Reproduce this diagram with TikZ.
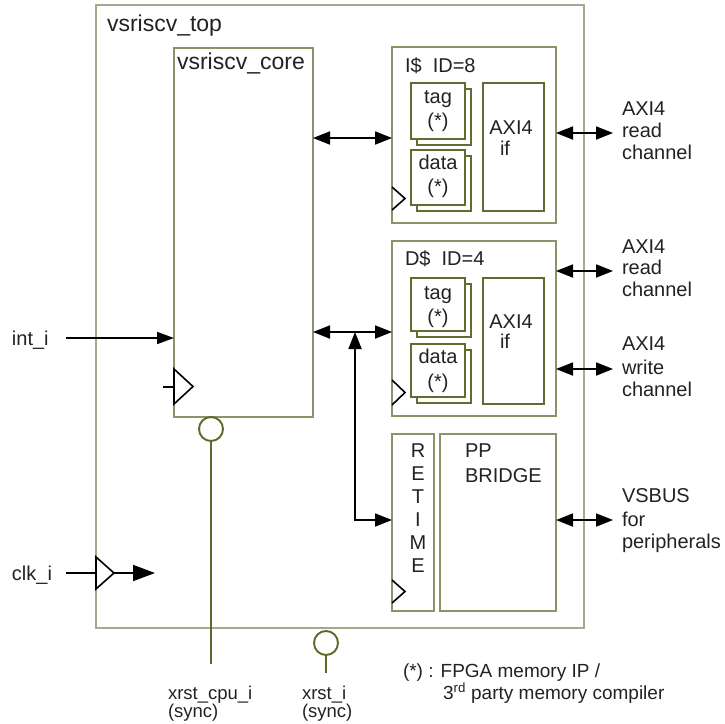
\documentclass[tikz,border=0pt]{standalone}
\usepackage{fontspec}
\setmainfont{Liberation Sans}
\usetikzlibrary{arrows.meta}
\definecolor{outerC}{HTML}{A3AA8C}
\definecolor{boxC}{HTML}{8A9468}
\definecolor{innC}{HTML}{5E6E30}
\definecolor{rstC}{HTML}{5A6A28}
\definecolor{txtC}{HTML}{222222}
\begin{document}
\begin{tikzpicture}[x=1pt,y=-1pt,
  lbl/.style={font=\fontsize{20}{23}\selectfont, text=txtC, inner sep=0, outer sep=0, anchor=base west},
  lblc/.style={font=\fontsize{20}{23}\selectfont, text=txtC, inner sep=0, outer sep=0, anchor=base},
  ttl/.style={font=\fontsize{23}{27}\selectfont, text=txtC, inner sep=0, outer sep=0, anchor=base west},
  sml/.style={font=\fontsize{18.5}{21}\selectfont, text=txtC, inner sep=0, outer sep=0, anchor=base west},
  blk/.style={draw=boxC, line width=1.6pt, fill=white, inner sep=0, outer sep=0, anchor=north west},
  mem/.style={draw=innC, line width=1.6pt, fill=white, inner sep=0, outer sep=0, anchor=north west, minimum width=54pt},
  bus/.style={line width=1.8pt, {Triangle[length=17pt,width=13pt]}-{Triangle[length=17pt,width=13pt]}},
  sig/.style={line width=1.8pt, -{Triangle[length=17pt,width=12pt]}},
  clk/.style={line width=1.6pt, line join=miter},
  rst/.style={draw=rstC, line width=1.9pt},
]
\useasboundingbox (0,0) rectangle (725,723);

% outer block
\node[blk, draw=outerC, minimum width=488pt, minimum height=623pt] (top) at (96,5) {};
\node[ttl] (toplbl) at (107,31) {vsriscv\_top};

% core
\node[blk, minimum width=139pt, minimum height=369pt] (core) at (174,48) {};
\node[ttl] (corelbl) at (177,69) {vsriscv\_core};
\draw[clk] (163,387) -- (174,387);
\draw[clk] (174,369) -- (193,386.5) -- (174,404) -- cycle;

% I$
\node[blk, minimum width=164pt, minimum height=176pt] (icache) at (392,47) {};
\node[lbl] (icachelbl) at (405,72) {I\$~~ID=8};
\node[mem, minimum height=56pt] (itagsh) at (417,89) {};
\node[mem, minimum height=56pt] (itag) at (411,83) {};
\node[mem, minimum height=55pt] (idatash) at (417,156) {};
\node[mem, minimum height=55pt] (idata) at (411,150) {};
\node[mem, minimum width=61pt, minimum height=128pt] (iaxi) at (483,83) {};
\node[lblc] (itag1) at (438,103) {tag};
\node[lblc] (itag2) at (438,127) {(*)};
\node[lblc] (idata1) at (438,169) {data};
\node[lblc] (idata2) at (438,193) {(*)};
\node[lblc] (iaxi1) at (511,134) {AXI4};
\node[lblc] (iaxi2) at (505,155) {if};
\draw[clk] (392,187) -- (405,198.5) -- (392,210);

% D$
\node[blk, minimum width=164pt, minimum height=175pt] (dcache) at (392,241) {};
\node[lbl] (dcachelbl) at (405,265) {D\$~~ID=4};
\node[mem, minimum height=53pt] (dtagsh) at (417,284) {};
\node[mem, minimum height=53pt] (dtag) at (411,278) {};
\node[mem, minimum height=53pt] (ddatash) at (417,350) {};
\node[mem, minimum height=53pt] (ddata) at (411,344) {};
\node[mem, minimum width=61pt, minimum height=126pt] (daxi) at (483,278) {};
\node[lblc] (dtag1) at (438,299) {tag};
\node[lblc] (dtag2) at (438,323) {(*)};
\node[lblc] (ddata1) at (438,363) {data};
\node[lblc] (ddata2) at (438,388) {(*)};
\node[lblc] (daxi1) at (511,328) {AXI4};
\node[lblc] (daxi2) at (505,348) {if};
\draw[clk] (392,380) -- (405,392.5) -- (392,405);

% retime + bridge
\node[blk, minimum width=42pt, minimum height=177pt] (retime) at (392,434) {};
\foreach \L [count=\i] in {R,E,T,I,M,E}
  \node[lblc] (rt\i) at (418,434+23*\i) {\L};
\draw[clk] (392,580) -- (405,591.5) -- (392,603);
\node[blk, minimum width=116pt, minimum height=177pt] (bridge) at (440,434) {};
\node[lbl] (pp1) at (465,457) {PP};
\node[lbl] (pp2) at (465,482) {BRIDGE};

% core <-> caches
\coordinate (icin) at ([yshift=-3pt]icache.west);
\draw[bus] (core.east |- icin) -- (icin);
\coordinate (dcin) at ([yshift=-3.5pt]dcache.west);
\draw[bus] (core.east |- dcin) -- (dcin);
\coordinate (tj) at (355,332);
\coordinate (rtin) at ([yshift=2.5pt]retime.west);
\draw[bus] (tj) |- (rtin);

% external buses
\coordinate (ir) at (613,133);
\draw[bus] (ir -| icache.east) -- (ir);
\node[lbl] (ir1) at (622,115) {AXI4};
\node[lbl] (ir2) at (622,137) {read};
\node[lbl] (ir3) at (622,159) {channel};

\coordinate (dr) at (613,271);
\draw[bus] (dr -| dcache.east) -- (dr);
\node[lbl] (dr1) at (622,253) {AXI4};
\node[lbl] (dr2) at (622,274) {read};
\node[lbl] (dr3) at (622,296) {channel};

\coordinate (dw) at (613,369);
\draw[bus] (dw -| dcache.east) -- (dw);
\node[lbl] (dw1) at (622,350) {AXI4};
\node[lbl] (dw2) at (622,374) {write};
\node[lbl] (dw3) at (622,396) {channel};

\coordinate (vb) at (613,520);
\draw[bus] (vb -| bridge.east) -- (vb);
\node[lbl] (vb1) at (622,502) {VSBUS};
\node[lbl] (vb2) at (622,526) {for};
\node[lbl] (vb3) at (622,548) {peripherals};

% int_i
\node[lbl] (intlbl) at (12,345) {int\_i};
\coordinate (intsrc) at (66,338);
\draw[sig] (intsrc) -- (intsrc -| core.west);

% clk_i
\node[lbl] (clklbl) at (12,580) {clk\_i};
\coordinate (clksrc) at (66,573);
\coordinate (clkin) at (96,573);
\coordinate (clkbuf) at (114,573);
\coordinate (clkdst) at (155,573);
\draw[line width=1.8pt] (clksrc) -- (clkin);
\draw[clk] (96,557) -- (clkbuf) -- (96,589) -- cycle;
\draw[line width=1.8pt, -{Triangle[length=22pt,width=16pt]}] (clkbuf) -- (clkdst);

% resets
\node[circle, rst, fill=white, minimum size=24pt, inner sep=0] (rbcore) at (211,429) {};
\coordinate (rcend) at (211,664);
\draw[rst] (rbcore.south) -- (rcend);
\node[circle, rst, fill=white, minimum size=24pt, inner sep=0] (rbtop) at (326,643) {};
\coordinate (rtend) at (326,673);
\draw[rst] (rbtop.south) -- (rtend);

\node[sml] (xc1) at (168,699) {xrst\_cpu\_i};
\node[sml] (xc2) at (168,717) {(sync)};
\node[sml] (xt1) at (302,699) {xrst\_i};
\node[sml] (xt2) at (302,717) {(sync)};

% footnote
\node[sml, font=\fontsize{19}{22}\selectfont] (fn1) at (403,677) {(*) : FPGA memory IP /};
\node[sml, font=\fontsize{19}{22}\selectfont] (fn2) at (443,699) {3\textsuperscript{rd} party memory compiler};
\end{tikzpicture}
\end{document}
